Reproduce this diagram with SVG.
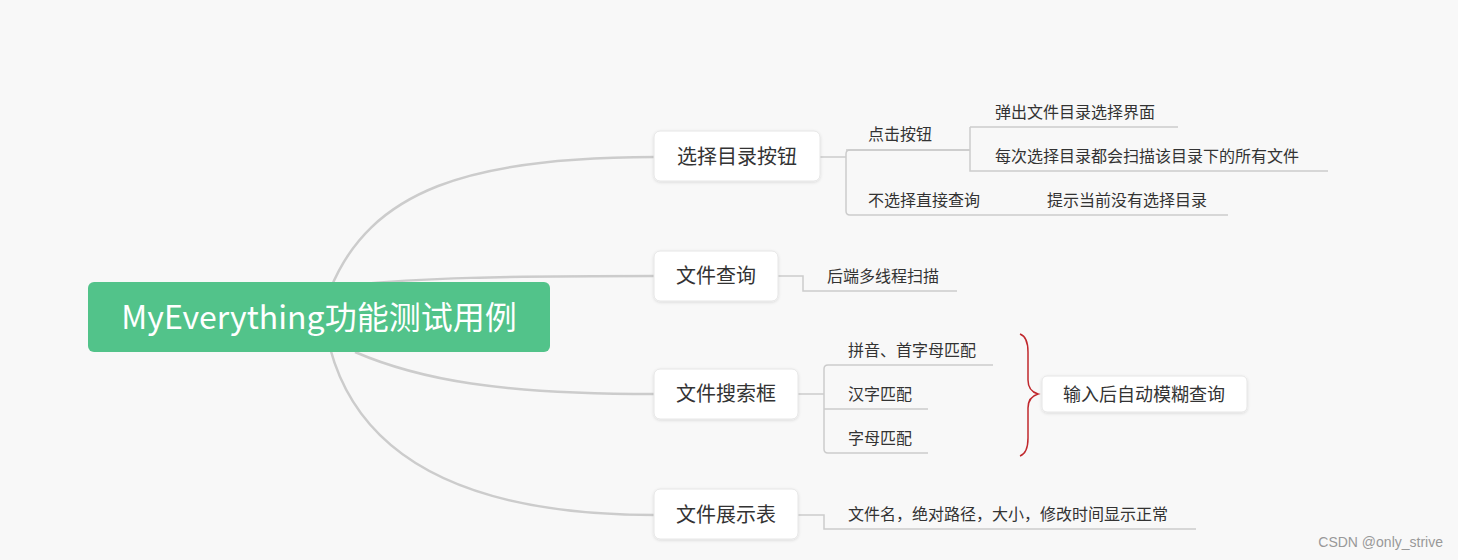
<svg xmlns="http://www.w3.org/2000/svg" width="1458" height="560" viewBox="0 0 1458 560">
<defs>
<style>
.t{font-family:"Noto Sans CJK SC","Liberation Sans",sans-serif;fill:#333}
.main{fill:#fff;stroke:#e6e6e6;stroke-width:1}
.curve{fill:none;stroke:#cccccc;stroke-width:2.5}
.ln{fill:none;stroke:#cccccc;stroke-width:1.5}
</style>
<filter id="sh" x="-10%" y="-20%" width="120%" height="150%"><feDropShadow dx="0" dy="1" stdDeviation="1.5" flood-color="#000" flood-opacity="0.12"/></filter>
</defs>
<rect width="1458" height="560" fill="#f8f8f8"/>
<g id="connectors">
<path class="curve" d="M330,290 C370,190 470,157 655,157"/>
<path class="curve" d="M350,285 C420,278 500,276 655,276"/>
<path class="curve" d="M355,352 C420,380 500,394 655,394"/>
<path class="curve" d="M330,348 C360,460 470,515 655,515"/>
<path class="ln" d="M820,157 H846 M970,150 H850 Q846,150 846,154 V211 Q846,215 850,215 H1000"/>
<path class="ln" d="M970,127 H1178 M970,127 V171 H1328 M846,150 H970 M1000,215 H1228"/>
<path class="ln" d="M778,276 H803 V291 H957"/>
<path class="ln" d="M798,394 H824 M993,365 H828 Q824,365 824,369 V449 Q824,453 828,453 H928 M824,409 H928"/>
<path class="ln" d="M798,515 H824 V529 H1196"/>
<path d="M1020,334 Q1028,337 1028,352 L1028,380 Q1028,391 1038,394 Q1028,397 1028,408 L1028,438 Q1028,453 1020,456" fill="none" stroke="#c0282d" stroke-width="1.5"/>
</g>
<g id="root"><rect x="88" y="282" width="462" height="70" rx="6" fill="#52c38a"/><text x="319" y="329" text-anchor="middle" font-size="32" class="t" style="fill:#fff">MyEverything功能测试用例</text></g>
<g id="n1"><rect class="main" filter="url(#sh)" x="654" y="131" width="166" height="50" rx="6"/><text class="t" x="737" y="164" font-size="20" text-anchor="middle">选择目录按钮</text></g>
<g id="n2"><rect class="main" filter="url(#sh)" x="654" y="251" width="124" height="50" rx="6"/><text class="t" x="716" y="283" font-size="20" text-anchor="middle">文件查询</text></g>
<g id="n3"><rect class="main" filter="url(#sh)" x="654" y="369" width="144" height="50" rx="6"/><text class="t" x="726" y="401" font-size="20" text-anchor="middle">文件搜索框</text></g>
<g id="n4"><rect class="main" filter="url(#sh)" x="654" y="489" width="144" height="50" rx="6"/><text class="t" x="726" y="522" font-size="20" text-anchor="middle">文件展示表</text></g>
<g id="n5"><rect class="main" filter="url(#sh)" x="1042" y="376" width="205" height="36" rx="5"/><text class="t" x="1144" y="401" font-size="18" text-anchor="middle">输入后自动模糊查询</text></g>
<g id="s1"><text class="t" x="868" y="140" font-size="16">点击按钮</text></g>
<g id="s2"><text class="t" x="868" y="206" font-size="16">不选择直接查询</text></g>
<g id="s3"><text class="t" x="995" y="118" font-size="16">弹出文件目录选择界面</text></g>
<g id="s4"><text class="t" x="995" y="162" font-size="16">每次选择目录都会扫描该目录下的所有文件</text></g>
<g id="s5"><text class="t" x="1047" y="206" font-size="16">提示当前没有选择目录</text></g>
<g id="s6"><text class="t" x="827" y="282" font-size="16">后端多线程扫描</text></g>
<g id="s7"><text class="t" x="848" y="356" font-size="16">拼音、首字母匹配</text></g>
<g id="s8"><text class="t" x="848" y="400" font-size="16">汉字匹配</text></g>
<g id="s9"><text class="t" x="848" y="444" font-size="16">字母匹配</text></g>
<g id="s10"><text class="t" x="848" y="520" font-size="16">文件名，绝对路径，大小，修改时间显示正常</text></g>
<text x="1443" y="547" text-anchor="end" font-size="14" font-family="Liberation Sans, sans-serif" fill="#999">CSDN @only_strive</text>
</svg>
